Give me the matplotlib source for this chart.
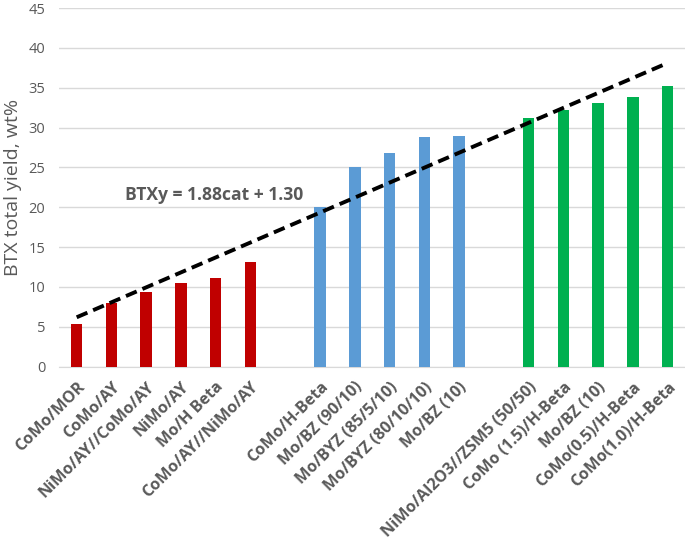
import matplotlib
matplotlib.use("Agg")
import matplotlib.pyplot as plt
import numpy as np

plt.rcParams['font.family'] = ['Open Sans', 'DejaVu Sans']

# catalysts in three groups, a blank slot between groups
red_labels = ["CoMo/MOR", "CoMo/AY", "NiMo/AY//CoMo/AY", "NiMo/AY", "Mo/H Beta", "CoMo/AY//NiMo/AY"]
red_vals = [5.3, 8.0, 9.35, 10.5, 11.1, 13.15]
blue_labels = ["CoMo/H-Beta", "Mo/BZ (90/10)", "Mo/BYZ (85/5/10)", "Mo/BYZ (80/10/10)", "Mo/BZ (10)"]
blue_vals = [20.0, 25.05, 26.85, 28.8, 28.95]
green_labels = ["NiMo/Al2O3//ZSM5 (50/50)", "CoMo (1.5)/H-Beta", "Mo/BZ (10)", "CoMo(0.5)/H-Beta", "CoMo(1.0)/H-Beta"]
green_vals = [31.2, 32.15, 33.1, 33.8, 35.2]

# trend line ends (first and last slot)
trend_vals = [6.2, 38.1]
trend_text = "BTXy = 1.88cat + 1.30"

groups = [(red_labels, red_vals, "#C00000"),
          (blue_labels, blue_vals, "#5B9BD5"),
          (green_labels, green_vals, "#00B050")]

fig = plt.figure(figsize=(6.85, 5.40), dpi=100)
ax = fig.add_axes((59.3 / 685, 1 - 366.7 / 540, 1 - 59.3 / 685, (366.7 - 8) / 540))

ticks, tick_labels = [], []
pos = 0
for labels, vals, color in groups:
    x = np.arange(pos, pos + len(vals))
    ax.bar(x, vals, width=0.33, color=color, zorder=3)
    ticks += list(x)
    tick_labels += labels
    pos += len(vals) + 1

ax.plot([ticks[0], ticks[-1]], trend_vals, color="black", lw=2.8,
        linestyle=(0, (3, 1.6)), zorder=4)
ax.text(1.39, 21.6, trend_text, fontsize=12.6, fontweight="bold",
        color="#595959", va="center", ha="left")

ax.set_xlim(-0.5, ticks[-1] + 0.5)
ax.set_ylim(0, 45)
ax.set_yticks(np.arange(0, 46, 5))
ax.yaxis.grid(True, color="#d9d9d9", lw=1, zorder=0)
ax.set_axisbelow(True)
for s in ["left", "right", "top"]:
    ax.spines[s].set_visible(False)
ax.spines["bottom"].set_color("#d9d9d9")
ax.tick_params(axis="both", length=0)
ax.tick_params(axis="y", labelsize=10.5, labelcolor="#595959", pad=10)

ax.set_xticks(ticks)
ax.set_xticklabels(tick_labels, rotation=45, ha="right", rotation_mode="anchor",
                   fontsize=11.6, fontweight="bold", color="#595959")
ax.tick_params(axis="x", pad=9)

ax.set_ylabel("BTX total yield, wt%", fontsize=14, color="#595959", labelpad=5)

fig.savefig("out.png", dpi=100)
